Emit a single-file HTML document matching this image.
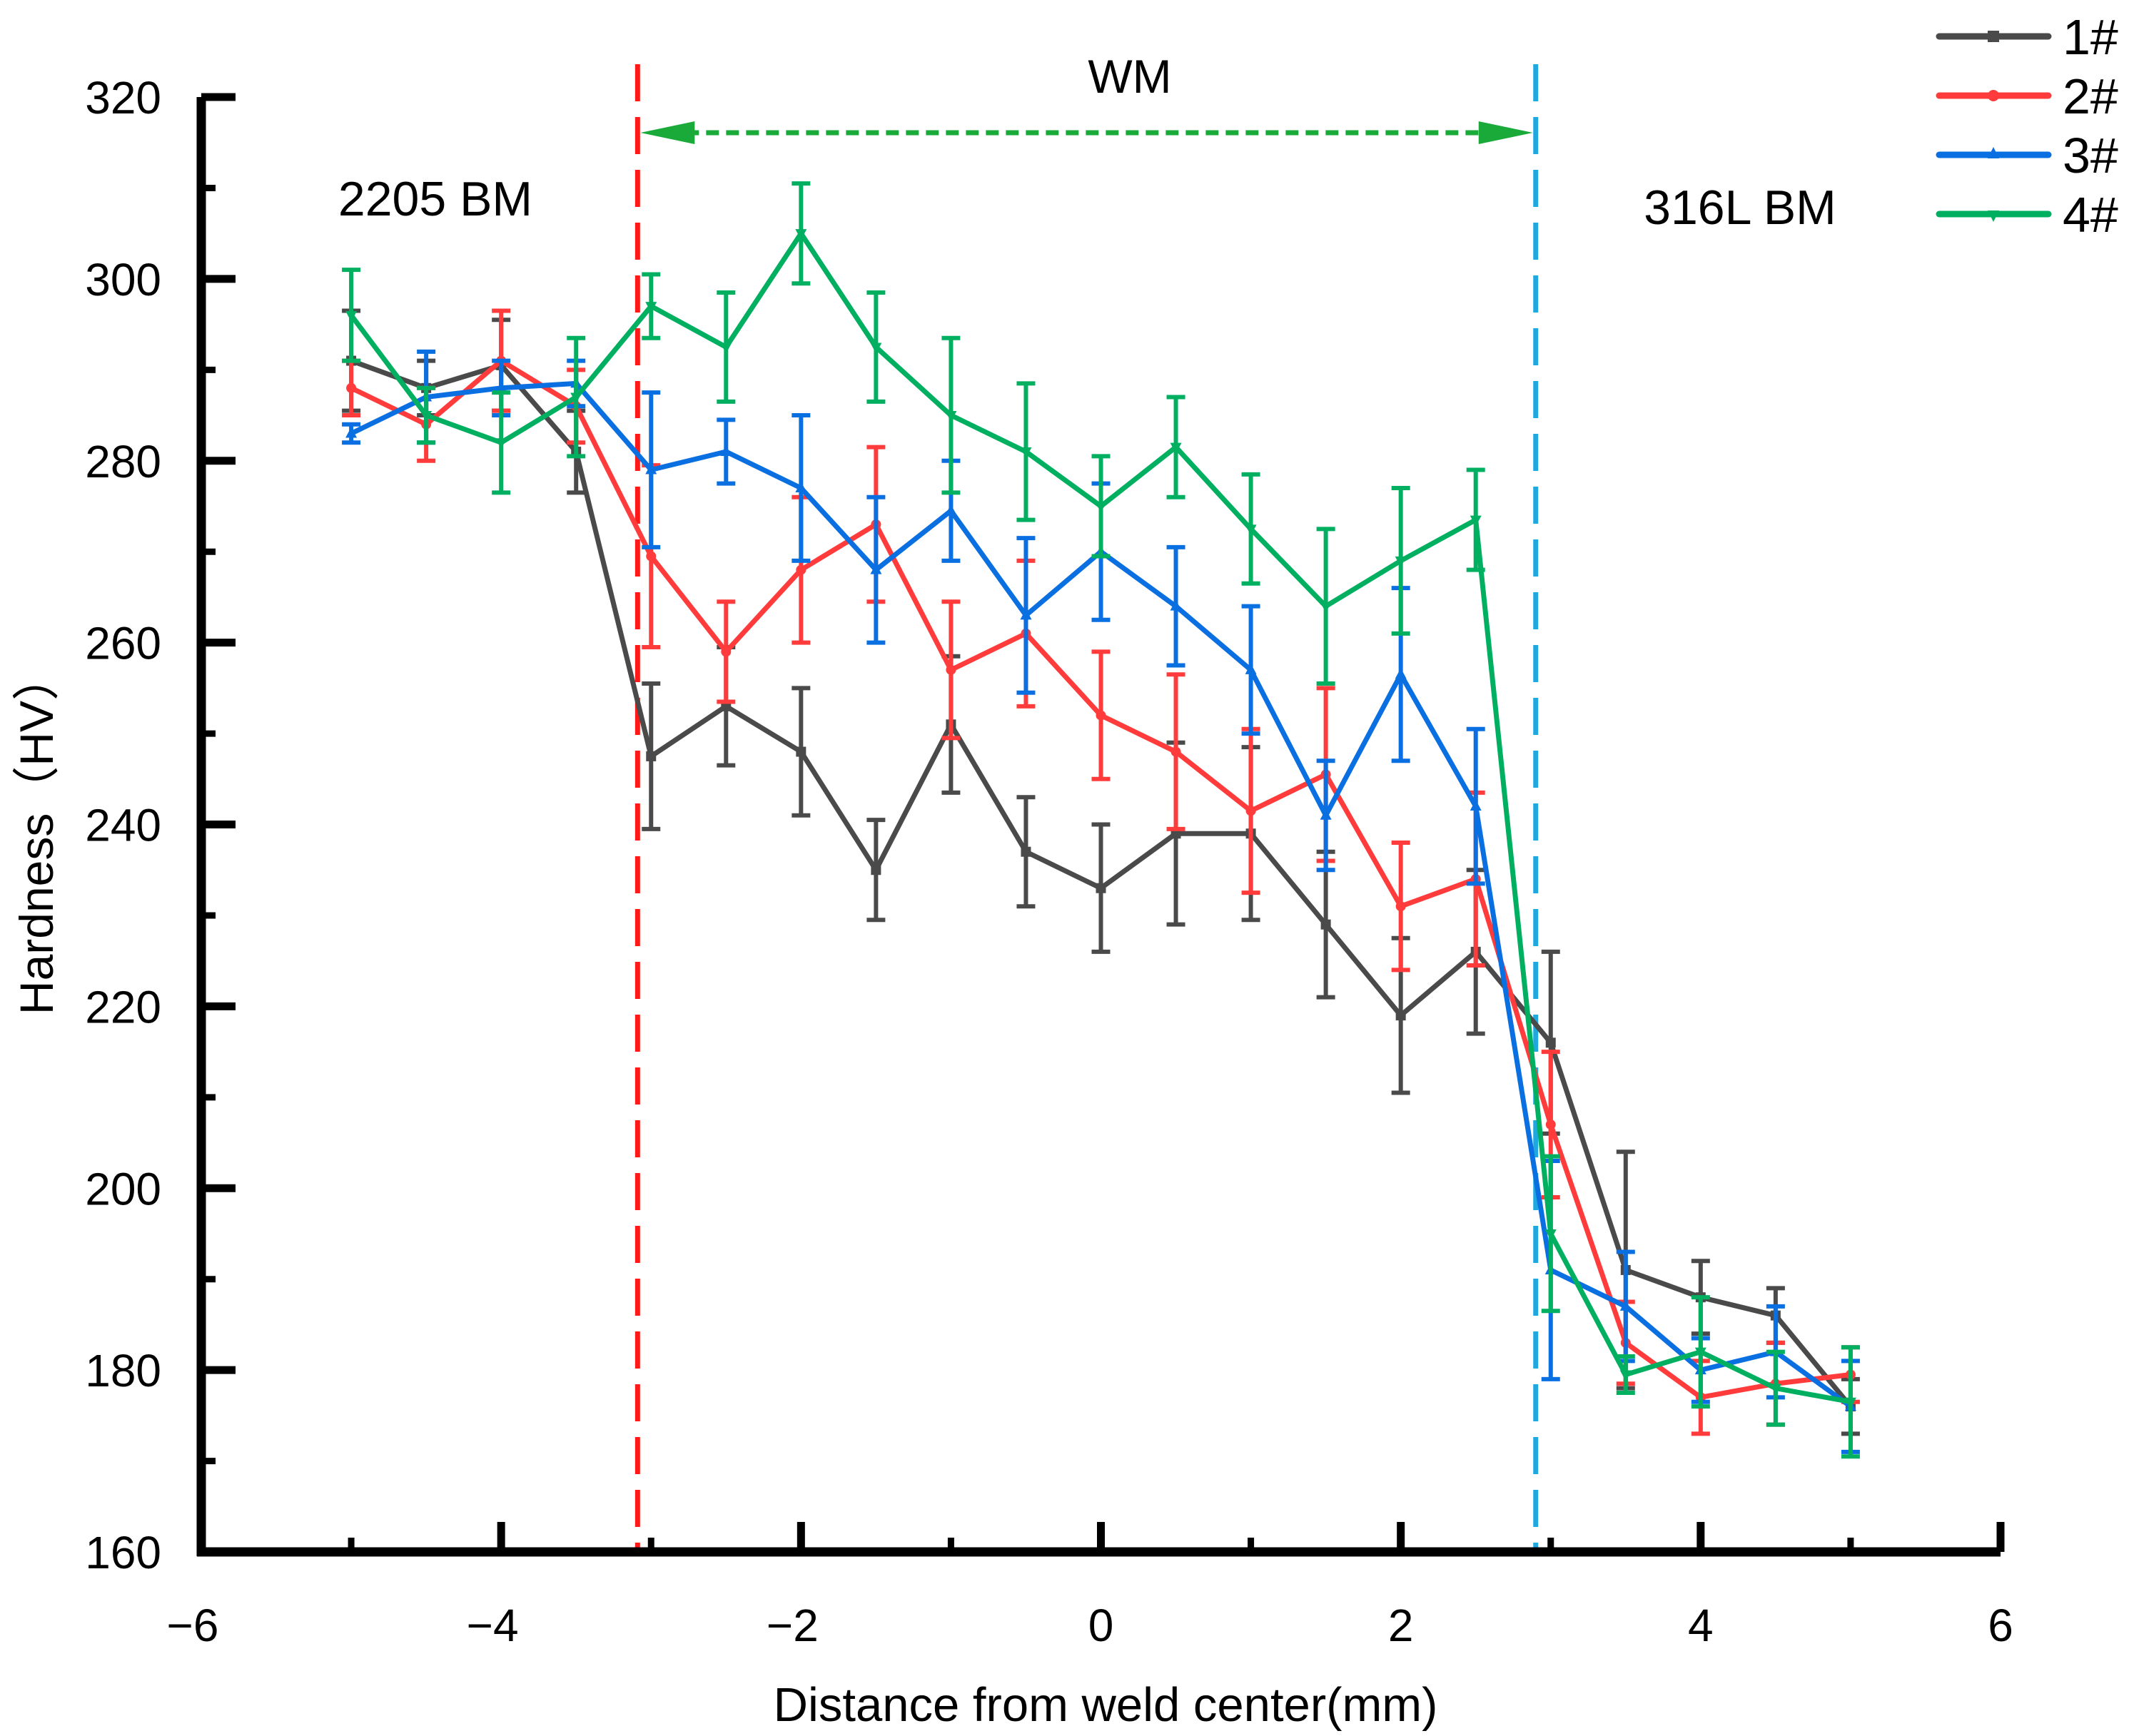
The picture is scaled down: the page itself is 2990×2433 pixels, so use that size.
<!DOCTYPE html>
<html><head><meta charset="utf-8"><style>
html,body{margin:0;padding:0;background:#fff;}
svg{display:block;font-family:"Liberation Sans","Noto Sans CJK SC",sans-serif;}
</style></head><body>
<svg id="chart" width="2990" height="2433" viewBox="0 0 2990 2433" xmlns="http://www.w3.org/2000/svg">
</svg>
<script>
const xs = [-5,-4.5,-4,-3.5,-3,-2.5,-2,-1.5,-1,-0.5,0,0.5,1,1.5,2,2.5,3,3.5,4,4.5,5];
const s1 = [291,288,290.5,281,247.5,253,248,235,251,237,233,239,239,229,219,226,216,191,188,186,176];
const e1 = [5.5,3,5,4.5,8,6.5,7,5.5,7.5,6,7,10,9.5,8,8.5,9,10,13,4,3,3];
const s2 = [288,284,291,286,269.5,259,268,273,257,261,252,248,241.5,245.5,231,234,207,183,177,178.5,179.5];
const e2 = [3,4,5.5,4,10,5.5,8,8.5,7.5,8,7,8.5,9,9.5,7,9.5,8,4.5,4,4.5,3];
const s3 = [283,287,288,288.5,279,281,277,268,274.5,263,270,264,257,241,256.5,242,191,187,180,182,176];
const e3 = [1,5,3,2.5,8.5,3.5,8,8,5.5,8.5,7.5,6.5,7,6,9.5,8.5,12,6,3.5,5,5];
const s4 = [296,285,282,287,297,292.5,305,292.5,285,281,275,281.5,272.5,264,269,273.5,195,179.5,182,178,176.5];
const e4 = [5,3,5.5,6.5,3.5,6,5.5,6,8.5,7.5,5.5,5.5,6,8.5,8,5.5,8.5,2,6,4,6];
const seriesNames = ["1#","2#","3#","4#"];
const xTicks = [-6,-4,-2,0,2,4,6];
const yTicks = [160,180,200,220,240,260,280,300,320];
const wmLeft = -3.09, wmRight = 2.9;

const NS="http://www.w3.org/2000/svg";
const svg=document.getElementById('chart');
const X=v=>282+(v+6)*(2803-282)/12;
const Y=v=>2175-(v-160)*(2175-136)/160;
function el(t,a,p){const e=document.createElementNS(NS,t);for(const k in a)e.setAttribute(k,a[k]);(p||svg).appendChild(e);return e;}

let l=el('line',{x1:X(wmLeft),x2:X(wmLeft),y1:90,y2:2175,stroke:'#ff1a1a','stroke-width':7,'stroke-dasharray':'52,22'});


l=el('line',{x1:X(wmRight),x2:X(wmRight),y1:90,y2:2175,stroke:'#1fa8e0','stroke-width':7,'stroke-dasharray':'52,22'});


const ag=el('g',{});


el('line',{x1:X(wmLeft)+40,x2:X(wmRight)-40,y1:186,y2:186,stroke:'#1aaa3a','stroke-width':7,'stroke-dasharray':'18,10'},ag);
el('polygon',{points:`${X(wmLeft)+4},186 ${X(wmLeft)+80},170 ${X(wmLeft)+80},202`,fill:'#1aaa3a'},ag);
el('polygon',{points:`${X(wmRight)-4},186 ${X(wmRight)-80},170 ${X(wmRight)-80},202`,fill:'#1aaa3a'},ag);

function txt(s,x,y,size,anchor,name,extra){const t=el('text',Object.assign({x:x,y:y,'font-size':size,'text-anchor':anchor||'start',fill:'#000'},extra||{}));t.textContent=s;


return t;}
txt('WM',1583,130,66,'middle','wm-label');
txt('2205 BM',610,302,68,'middle','2205-bm-label');
txt('316L BM',2438,314,68,'middle','316l-bm-label');

const ax=el('g',{});


el('line',{x1:X(-6),x2:X(-6),y1:Y(320),y2:Y(160)+6,stroke:'#000','stroke-width':13},ax);
el('line',{x1:X(-6)-6,x2:X(6),y1:Y(160),y2:Y(160),stroke:'#000','stroke-width':13},ax);
for(let v=-6;v<=6;v+=1){const maj=v%2===0;el('line',{x1:X(v),x2:X(v),y1:Y(160),y2:Y(160)-(maj?42:20),stroke:'#000','stroke-width':maj?11:9},ax);}
for(let v=160;v<=320;v+=10){const maj=v%20===0;el('line',{x1:X(-6),x2:X(-6)+(maj?48:20),y1:Y(v),y2:Y(v),stroke:'#000','stroke-width':maj?11:9},ax);}
xTicks.forEach(v=>{txt((v<0?'\u2212':'')+Math.abs(v),X(v)-(v<0?12:0),2300,64,'middle','x-tick-label');});
yTicks.forEach(v=>{txt(String(v),226,Y(v)+23,64,'end','y-tick-label');});
txt('Distance from weld center(mm)',1549,2412,67,'middle','x-axis-title');
txt('Hardness（HV）',0,0,66,'middle','y-axis-title',{transform:'translate(74,1169) rotate(-90)'});

const colors=['#4a4a4a','#ff3b3b','#0a6fe0','#00b060'];
const data=[[s1,e1],[s2,e2],[s3,e3],[s4,e4]];
data.forEach((d,i)=>{
  const g=el('g',{});
  
  
  const c=colors[i];
  d[0].forEach((v,j)=>{const x=X(xs[j]),e=d[1][j];
    el('line',{x1:x,x2:x,y1:Y(v-e),y2:Y(v+e),stroke:c,'stroke-width':6},g);
    el('line',{x1:x-13,x2:x+13,y1:Y(v-e),y2:Y(v-e),stroke:c,'stroke-width':6},g);
    el('line',{x1:x-13,x2:x+13,y1:Y(v+e),y2:Y(v+e),stroke:c,'stroke-width':6},g);});
  el('polyline',{points:d[0].map((v,j)=>X(xs[j])+','+Y(v)).join(' '),fill:'none',stroke:c,'stroke-width':7,'stroke-linejoin':'round'},g);
  d[0].forEach((v,j)=>{const x=X(xs[j]),y=Y(v);
    if(i===0)el('rect',{x:x-7,y:y-7,width:14,height:14,fill:c},g);
    else if(i===1)el('circle',{cx:x,cy:y,r:7,fill:c},g);
    else if(i===2)el('polygon',{points:`${x},${y-9} ${x-8},${y+6} ${x+8},${y+6}`,fill:c},g);
    else el('polygon',{points:`${x},${y+9} ${x-8},${y-6} ${x+8},${y-6}`,fill:c},g);});
});

const lg=el('g',{});


const ly=[51,134,217,300];
seriesNames.forEach((n,i)=>{
  const g=el('g',{},lg);
  
  
  el('line',{x1:2717,x2:2870,y1:ly[i],y2:ly[i],stroke:colors[i],'stroke-width':9,'stroke-linecap':'round'},g);
  const x=2793,y=ly[i];
  if(i===0)el('rect',{x:x-8,y:y-8,width:16,height:16,fill:colors[i]},g);
  else if(i===1)el('circle',{cx:x,cy:y,r:8,fill:colors[i]},g);
  else if(i===2)el('polygon',{points:`${x},${y-11} ${x-8},${y+5} ${x+8},${y+5}`,fill:colors[i]},g);
  else el('polygon',{points:`${x},${y+11} ${x-8},${y-5} ${x+8},${y-5}`,fill:colors[i]},g);
  const t=el('text',{x:2890,y:ly[i]+25,'font-size':70,fill:'#000'},g);t.textContent=n;
  
  
});
</script>
</body></html>
